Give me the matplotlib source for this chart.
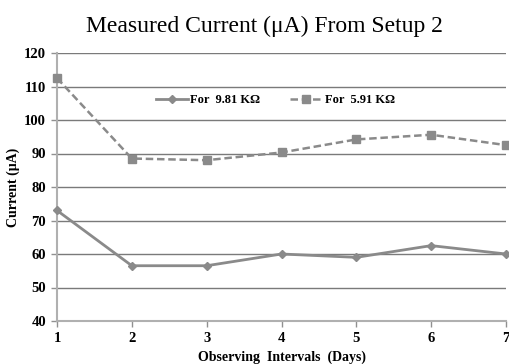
import matplotlib.pyplot as plt

days = [1, 2, 3, 4, 5, 6, 7]
current_981 = [73, 56.5, 56.5, 60, 59, 62.5, 60]
current_591 = [112.5, 88.5, 88, 90.3, 94.2, 95.6, 92.5]
yticks = [40, 50, 60, 70, 80, 90, 100, 110, 120]

plt.rcParams['font.family'] = ['Liberation Serif', 'DejaVu Serif']

fig = plt.figure(figsize=(5.09, 3.64), dpi=100)
ax = fig.add_axes([57 / 509, 43 / 364, 449 / 509, 268 / 364])

grey = '#8a8a8a'
ax.plot(days, current_981, color=grey, lw=2, marker='D', ms=4,
        label='For  9.81 K\u03a9', clip_on=False, zorder=3)
ax.plot(days, current_591, color=grey, lw=1.8, ls=(0, (3, 1.5)), marker='s', ms=6,
        label='For  5.91 K\u03a9', clip_on=False, zorder=3)

ax.set_xlim(1, 7)
ax.set_ylim(40, 120)
ax.set_xticks(days)
ax.set_yticks(yticks)
ax.grid(axis='y', color='#7a7a7a', lw=1)
ax.set_axisbelow(True)
for s in ['top', 'right']:
    ax.spines[s].set_visible(False)
for s in ['left', 'bottom']:
    ax.spines[s].set_color('#b0b0b0')
    ax.spines[s].set_linewidth(1.5)
ax.tick_params(axis='both', color='#909090', length=4, width=1, labelsize=10.5, pad=4)
for lab in ax.get_xticklabels() + ax.get_yticklabels():
    lab.set_fontweight('bold')

ax.set_xlabel('Observing  Intervals  (Days)', fontsize=10, fontweight='bold', labelpad=4)
ax.set_ylabel('Current (\u03bcA)', fontsize=10, fontweight='bold', labelpad=3)
fig.text(264 / 509, 1 - 26 / 364, 'Measured Current (\u03bcA) From Setup 2',
         ha='center', va='center', fontsize=17)

leg = ax.legend(loc='center', bbox_to_anchor=(0.486, 0.825), ncol=2, frameon=False,
                handlelength=2.6, columnspacing=2.4, handletextpad=0.15,
                prop={'weight': 'bold', 'size': 9})

fig.savefig('out.png', dpi=100)
